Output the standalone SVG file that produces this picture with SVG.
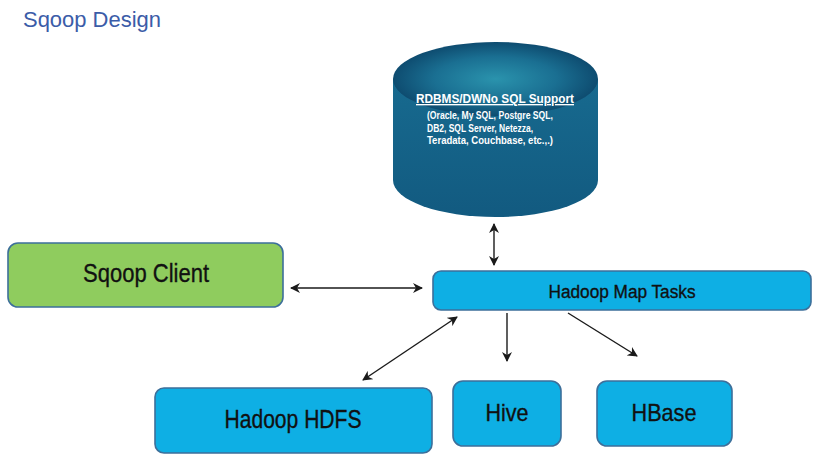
<svg xmlns="http://www.w3.org/2000/svg" width="826" height="461" viewBox="0 0 826 461">
<style>
.box{fill:#0eafe4;stroke:#3d6f9a;stroke-width:1.6}
.green{fill:#8fcc5e;stroke:#3d6f9a;stroke-width:1.6}
.lbl{font-family:"Liberation Sans",Arial,sans-serif;fill:#111;stroke:#111;stroke-width:0.35;text-anchor:middle}
.con{stroke:#1a1a1a;stroke-width:1.4;fill:none}
.db{font-family:"Liberation Sans",Arial,sans-serif;fill:#fff;font-weight:bold}
</style>
<defs>
<marker id="ah" viewBox="0 0 10 10" refX="9" refY="5" markerWidth="10" markerHeight="10" markerUnits="userSpaceOnUse" orient="auto-start-reverse">
<path d="M0,0 L10,5 L0,10 L3,5 Z" fill="#1a1a1a"/>
</marker>
<radialGradient id="topg" cx="0.5" cy="0.5" r="0.5">
<stop offset="0" stop-color="#2a93ad"/>
<stop offset="0.6" stop-color="#1a6f92"/>
<stop offset="1" stop-color="#0e4c70"/>
</radialGradient>
<linearGradient id="bodyg" x1="0" y1="0" x2="0" y2="1">
<stop offset="0" stop-color="#176a8f"/>
<stop offset="1" stop-color="#125a80"/>
</linearGradient>
</defs>
<rect width="826" height="461" fill="#fff"/>
<text x="23" y="27" font-family="'Liberation Sans',Arial,sans-serif" font-size="22.5" fill="#3b5ca8" textLength="138" lengthAdjust="spacingAndGlyphs">Sqoop Design</text>

<g id="connectors">
<line class="con" x1="291" y1="288" x2="422" y2="288" marker-start="url(#ah)" marker-end="url(#ah)"/>
<line class="con" x1="494" y1="224" x2="494" y2="265" marker-start="url(#ah)" marker-end="url(#ah)"/>
<line class="con" x1="363" y1="380" x2="457" y2="317" marker-start="url(#ah)" marker-end="url(#ah)"/>
<line class="con" x1="507" y1="313" x2="507" y2="361" marker-end="url(#ah)"/>
<line class="con" x1="568" y1="313" x2="637" y2="356" marker-end="url(#ah)"/>
</g>

<g id="rdbms">
<path d="M393,79 L393,180 A102.5,37 0 0 0 598,180 L598,79 Z" fill="url(#bodyg)"/>
<ellipse cx="495.5" cy="79" rx="102.5" ry="37" fill="url(#topg)"/>
<text class="db" x="495" y="103" font-size="13.5" text-anchor="middle" text-decoration="underline" textLength="158" lengthAdjust="spacingAndGlyphs">RDBMS/DWNo SQL Support</text>
<text class="db" x="427" y="119" font-size="10.5" textLength="126" lengthAdjust="spacingAndGlyphs">(Oracle, My SQL, Postgre SQL,</text>
<text class="db" x="427" y="131.5" font-size="10.5" textLength="106" lengthAdjust="spacingAndGlyphs">DB2, SQL Server, Netezza,</text>
<text class="db" x="427" y="144" font-size="10.5" textLength="126" lengthAdjust="spacingAndGlyphs">Teradata, Couchbase, etc.,.)</text>
</g>

<g id="sqoop-client">
<rect class="green" x="8" y="243" width="275" height="64" rx="10"/>
<text class="lbl" x="146" y="282" font-size="26.5" textLength="126" lengthAdjust="spacingAndGlyphs">Sqoop Client</text>
</g>

<g id="map-tasks">
<rect class="box" x="433" y="271" width="378" height="39" rx="8"/>
<text class="lbl" x="622" y="298" font-size="18" textLength="147" lengthAdjust="spacingAndGlyphs">Hadoop Map Tasks</text>
</g>

<g id="hdfs">
<rect class="box" x="155" y="388" width="277" height="65" rx="9"/>
<text class="lbl" x="293" y="428" font-size="25" textLength="137" lengthAdjust="spacingAndGlyphs">Hadoop HDFS</text>
</g>

<g id="hive">
<rect class="box" x="453" y="381" width="108" height="65" rx="10"/>
<text class="lbl" x="507" y="421" font-size="24" textLength="43" lengthAdjust="spacingAndGlyphs">Hive</text>
</g>

<g id="hbase">
<rect class="box" x="597" y="381" width="135" height="65" rx="10"/>
<text class="lbl" x="664" y="421" font-size="24" textLength="65" lengthAdjust="spacingAndGlyphs">HBase</text>
</g>
</svg>
